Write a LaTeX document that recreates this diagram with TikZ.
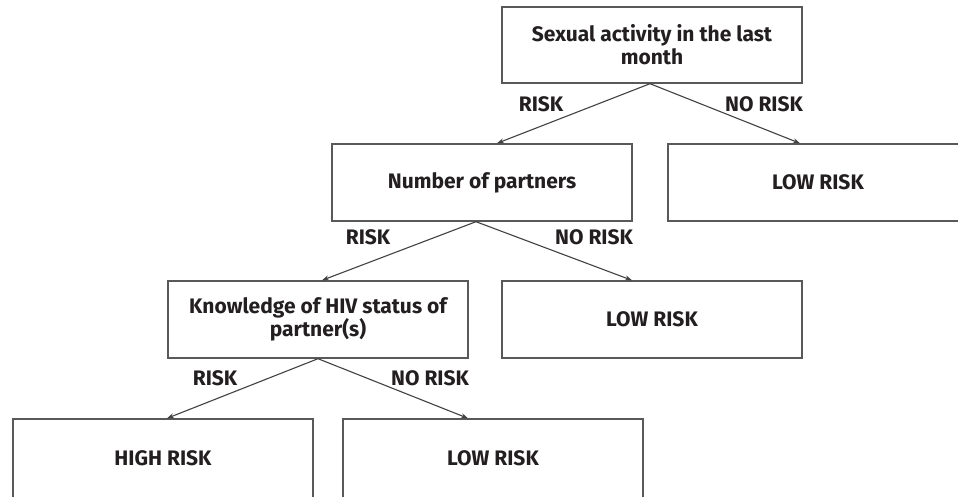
\documentclass[tikz,border=0pt]{standalone}
\usepackage{fontspec}
\setmainfont{Fira Sans}
\usetikzlibrary{arrows.meta}
\definecolor{boxline}{HTML}{595959}
\definecolor{ink}{HTML}{231F20}
\tikzset{
  box/.style={draw=boxline, line width=1.4pt, fill=white, minimum width=300pt, minimum height=77pt,
    align=center, text=ink, font=\fontsize{21}{23}\selectfont\bfseries, inner sep=0pt},
  lbl/.style={text=ink, font=\fontsize{21}{23}\selectfont\bfseries, inner sep=0pt},
  arr/.style={draw=ink!85, line width=1.1pt, -{Stealth[length=7pt,width=5pt]}}
}
\begin{document}
\begin{tikzpicture}[x=1pt,y=-1pt]
    	\useasboundingbox (0,0) rectangle (958,496);
    	\clip (0,0) rectangle (958,496);
    	\fill[white] (0,0) rectangle (958,496);

    	\node[box, minimum height=76pt] (act) at (652,45) {Sexual activity in the last\\month};
    	\node[box] (num) at (482,182.5) {Number of partners};
    	\node[box] (low1) at (818,182.5) {LOW RISK};
    	\node[box] (know) at (318,319.5) {Knowledge of HIV status of\\partner(s)};
    	\node[box] (low2) at (652,319.5) {LOW RISK};
    	\node[box, minimum height=79pt] (high) at (163,458.5) {HIGH RISK};
    	\node[box, minimum height=79pt] (low3) at (493,458.5) {LOW RISK};

    	\draw[arr] ([xshift=-2pt]act.south) -- ([xshift=15pt]num.north);
    	\draw[arr] ([xshift=-2pt]act.south) -- ([xshift=-18pt]low1.north);
    	\draw[arr] ([xshift=-6pt]num.south) -- ([xshift=4pt]know.north);
    	\draw[arr] ([xshift=-6pt]num.south) -- ([xshift=-20pt]low2.north);
    	\draw[arr] (know.south) -- ([xshift=4pt]high.north);
    	\draw[arr] (know.south) -- ([xshift=-25pt]low3.north);

    	\node[lbl] (r1) at (541,104) {RISK};
    	\node[lbl] (n1) at (764,104) {NO RISK};
    	\node[lbl] (r2) at (368,237) {RISK};
    	\node[lbl] (n2) at (594,237) {NO RISK};
    	\node[lbl] (r3) at (215,378) {RISK};
    	\node[lbl] (n3) at (430,378) {NO RISK};
\end{tikzpicture}
\end{document}
